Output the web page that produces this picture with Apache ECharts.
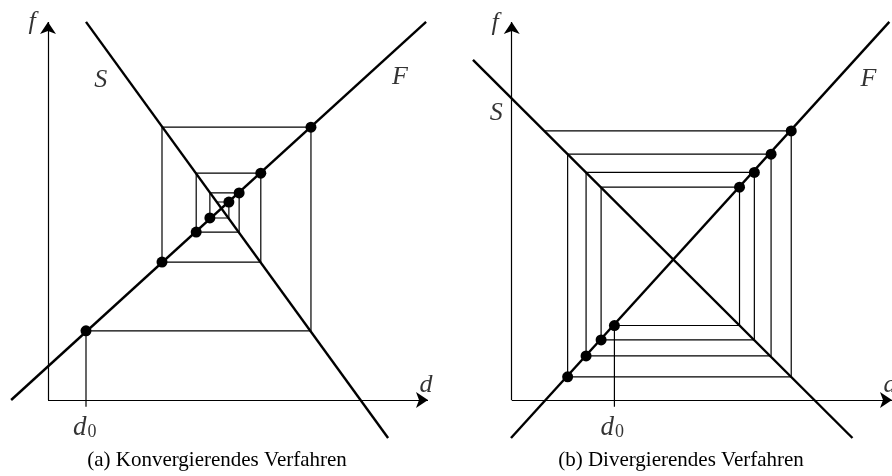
<!DOCTYPE html>
<html>
<head>
<meta charset="utf-8">
<script src="https://cdn.jsdelivr.net/npm/echarts@6/dist/echarts.min.js"></script>
<style>
  html, body { margin: 0; padding: 0; background: #fff; }
  #chart { width: 892px; height: 476px; }
</style>
</head>
<body>
<div id="chart"></div>
<script>
// ---- Panel (a): converging iteration ----
const lineFa_d = [-0.97, 9.95];
const lineFa_f = [0, 9.95];
const lineSa_d = [1.0, 8.95];
const lineSa_f = [9.95, -1.0];
const iterA_d = [1.0, 6.92, 3.0, 5.6, 3.9, 5.03, 4.26, 4.76];
const iterA_f = [1.82, 7.18, 3.63, 5.97, 4.42, 5.45, 4.79, 5.21];
const endA_d = 4.44;

// ---- Panel (b): diverging iteration ----
const lineFb_d = [-0.02, 9.93];
const lineFb_f = [-1.0, 9.95];
const lineSb_d = [-1.02, 8.96];
const lineSb_f = [8.95, -1.0];
const iterB_d = [2.70, 5.99, 2.35, 6.38, 1.955, 6.82, 1.47, 7.35];
const iterB_f = [1.96, 5.60, 1.58, 5.99, 1.16, 6.47, 0.61, 7.08];
const endB_d = 0.86;

// axis extents (arrow tips) for d and f
const axisD = [0, 10.0];
const axisF = [0, 9.95];

const captions = ['(a) Konvergierendes Verfahren', '(b) Divergierendes Verfahren'];

const INK = '#000';
const mathFont = '"Liberation Serif", "DejaVu Serif", serif';

function pairs(xs, ys) { return xs.map((x, i) => [x, ys[i]]); }

// staircase: from each point horizontally to S, then vertically to the next point on F
function cobweb(ds, fs, endD) {
  const pts = [[ds[0], fs[0]]];
  for (let k = 1; k < ds.length; k++) {
    pts.push([ds[k], fs[k - 1]]);
    pts.push([ds[k], fs[k]]);
  }
  pts.push([endD, fs[fs.length - 1]]);
  return pts;
}

function panelSeries(ix, Fd, Ff, Sd, Sf, itD, itF, endD, labels) {
  const base = { xAxisIndex: ix, yAxisIndex: ix, silent: true, animation: false };
  return [
    Object.assign({}, base, {
      type: 'lines', coordinateSystem: 'cartesian2d', z: 1,
      symbol: ['none', 'arrow'], symbolSize: [8, 12],
      lineStyle: { color: INK, width: 1.2, opacity: 1, curveness: 0 },
      data: [
        { coords: [[axisD[0], 0], [axisD[1], 0]] },
        { coords: [[0, axisF[0]], [0, axisF[1]]] }
      ]
    }),
    Object.assign({}, base, {
      type: 'line', z: 2, symbol: 'none',
      lineStyle: { color: INK, width: 1.2 },
      data: cobweb(itD, itF, endD)
    }),
    Object.assign({}, base, {
      type: 'line', z: 2, symbol: 'none',
      lineStyle: { color: INK, width: 1.2 },
      data: [[itD[0], itF[0]], [itD[0], -0.18]]
    }),
    Object.assign({}, base, {
      type: 'line', z: 3, symbol: 'none',
      lineStyle: { color: INK, width: 2.4 },
      data: pairs(Fd, Ff)
    }),
    Object.assign({}, base, {
      type: 'line', z: 3, symbol: 'none',
      lineStyle: { color: INK, width: 2.4 },
      data: pairs(Sd, Sf)
    }),
    Object.assign({}, base, {
      type: 'scatter', z: 5, symbol: 'circle', symbolSize: 11,
      itemStyle: { color: INK, opacity: 1 },
      data: pairs(itD, itF)
    }),
    Object.assign({}, base, {
      type: 'scatter', z: 6, symbolSize: 0,
      label: {
        show: true, position: 'inside', color: INK,
        fontFamily: mathFont, fontStyle: 'italic', fontSize: 26,
        rich: {
          i: { fontFamily: mathFont, fontStyle: 'italic', fontSize: 27, color: INK },
          s: { fontFamily: mathFont, fontStyle: 'normal', fontSize: 18, color: INK,
               verticalAlign: 'bottom', padding: [9, 0, 0, 1] }
        }
      },
      data: labels.map(l => ({ value: l.at, label: { formatter: l.text } }))
    })
  ];
}

const labelsA = [
  { at: [-0.42, 9.95], text: 'f' },
  { at: [1.39, 8.42], text: 'S' },
  { at: [9.26, 8.5], text: 'F' },
  { at: [9.95, 0.39], text: 'd' },
  { at: [0.97, -0.74], text: '{i|d}{s|0}' }
];
const labelsB = [
  { at: [-0.44, 9.92], text: 'f' },
  { at: [-0.41, 7.55], text: 'S' },
  { at: [9.38, 8.45], text: 'F' },
  { at: [9.95, 0.39], text: 'd' },
  { at: [2.64, -0.74], text: '{i|d}{s|0}' }
];

const hiddenAxis = (i, min, max) => ({
  type: 'value', gridIndex: i, min: min, max: max, show: false
});

const chart = echarts.init(document.getElementById('chart'), null, { renderer: 'canvas' });
chart.setOption({
  backgroundColor: '#fff',
  animation: false,
  grid: [
    { left: 10, top: 1, width: 437, height: 456 },
    { left: 454.7, top: 1, width: 437.3, height: 456 }
  ],
  xAxis: [hiddenAxis(0, -1, 10.5), hiddenAxis(1, -1.5, 10.0)],
  yAxis: [hiddenAxis(0, -1.5, 10.5), hiddenAxis(1, -1.5, 10.5)],
  graphic: captions.map((t, i) => ({
    type: 'text', silent: true,
    x: i === 0 ? 217 : 681, y: 460,
    style: {
      text: t, fill: INK, font: '21px "Liberation Serif", serif',
      textAlign: 'center', textVerticalAlign: 'middle'
    }
  })),
  series: [].concat(
    panelSeries(0, lineFa_d, lineFa_f, lineSa_d, lineSa_f, iterA_d, iterA_f, endA_d, labelsA),
    panelSeries(1, lineFb_d, lineFb_f, lineSb_d, lineSb_f, iterB_d, iterB_f, endB_d, labelsB)
  )
});
</script>
</body>
</html>
